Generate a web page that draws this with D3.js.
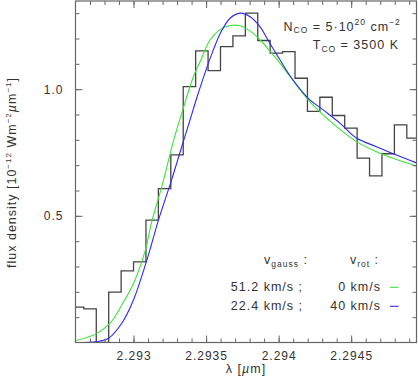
<!DOCTYPE html>
<html>
<head>
<meta charset="utf-8">
<script src="https://cdn.jsdelivr.net/npm/d3@7"></script>
<style>
body { margin: 0; background: #fff; }
text { font-family: "Liberation Sans", Arial, sans-serif; fill: #333; letter-spacing: 1px; }
</style>
</head>
<body>
<div id="chart"></div>
<script>
// observed spectrum, binned (bin centres in micron)
var binLambda = [2.2926148, 2.2927004, 2.2927860, 2.2928716, 2.2929572, 2.2930428, 2.2931284,
  2.2932140, 2.2932996, 2.2933852, 2.2934708, 2.2935564, 2.2936420, 2.2937276, 2.2938132,
  2.2938988, 2.2939844, 2.2940700, 2.2941556, 2.2942412, 2.2943268, 2.2944124, 2.2944980,
  2.2945836, 2.2946692, 2.2947548, 2.2948404, 2.2949260];
var binFlux = [0.140, 0.133, 0.0, 0.199, 0.283, 0.318, 0.483, 0.607, 0.741, 1.010, 1.151,
  1.073, 1.168, 1.210, 1.300, 1.192, 1.142, 1.148, 1.043, 0.912, 0.968, 0.896, 0.846,
  0.728, 0.658, 0.745, 0.859, 0.807];

// model: v_gauss = 51.2 km/s, v_rot = 0 km/s
var greenLambda = [2.292606, 2.292748, 2.292840, 2.292920, 2.293000, 2.293080, 2.293126,
  2.293195, 2.293275, 2.293332, 2.293413, 2.293459, 2.293528, 2.293596, 2.293665, 2.293734,
  2.293803, 2.293871, 2.293940, 2.294009, 2.294078, 2.294204, 2.294284, 2.294399, 2.294536,
  2.294674, 2.294812, 2.294949];
var greenFlux = [0.008, 0.036, 0.077, 0.149, 0.234, 0.362, 0.478, 0.616, 0.795, 0.905, 1.050,
  1.109, 1.195, 1.235, 1.251, 1.250, 1.229, 1.195, 1.150, 1.103, 1.050, 0.958, 0.910, 0.852,
  0.793, 0.753, 0.722, 0.696];

// model: v_gauss = 22.4 km/s, v_rot = 40 km/s
var blueLambda = [2.292606, 2.292748, 2.292828, 2.292920, 2.293000, 2.293085, 2.293120,
  2.293172, 2.293264, 2.293321, 2.293390, 2.293436, 2.293505, 2.293550, 2.293596, 2.293665,
  2.293734, 2.293803, 2.293871, 2.293940, 2.294009, 2.294078, 2.294204, 2.294307, 2.294422,
  2.294536, 2.294674, 2.294812, 2.294949];
var blueFlux = [0.000, 0.004, 0.017, 0.077, 0.169, 0.313, 0.380, 0.484, 0.645, 0.752, 0.880,
  0.966, 1.085, 1.155, 1.218, 1.280, 1.300, 1.286, 1.247, 1.180, 1.116, 1.053, 0.964, 0.918,
  0.866, 0.807, 0.773, 0.740, 0.709];

var xTicks = [2.293, 2.2935, 2.294, 2.2945];
var xTickLabels = ["2.293", "2.2935", "2.294", "2.2945"];
var yTicks = [0.5, 1.0];
var yTickLabels = ["0.5", "1.0"];
var legendGauss = ["51.2 km/s ;", "22.4 km/s ;"];
var legendRot = ["0 km/s", "40 km/s"];
var legendColors = ["#3ae43a", "#2a2af0"];

var svgWidth = 418;
var svgHeight = 377;
var margin = { top: 1, right: 1.5, bottom: 34.5, left: 75.5 };
var width = svgWidth - margin.left - margin.right;
var height = svgHeight - margin.top - margin.bottom;

var svg = d3.select("#chart")
  .append("svg")
  .attr("width", svgWidth)
  .attr("height", svgHeight);

var chartGroup = svg.append("g")
  .attr("transform", `translate(${margin.left}, ${margin.top})`);

var xScale = d3.scaleLinear().domain([2.2926, 2.29495]).range([0, width]);
var yScale = d3.scaleLinear().domain([0, 1.348]).range([height, 0]);

chartGroup.append("clipPath").attr("id", "plotclip")
  .append("rect").attr("width", width).attr("height", height);

// histogram of the data, extended to the frame on both sides
var histPts = binLambda.map((l, i) => [l, binFlux[i]]);
histPts.unshift([xScale.domain()[0], binFlux[0]]);
histPts.push([xScale.domain()[1], binFlux[binFlux.length - 1]]);

var stepLine = d3.line()
  .x(d => xScale(d[0]))
  .y(d => yScale(d[1]))
  .curve(d3.curveStep);

chartGroup.append("path")
  .datum(histPts)
  .attr("clip-path", "url(#plotclip)")
  .attr("d", stepLine)
  .attr("fill", "none")
  .attr("stroke", "#444")
  .attr("stroke-width", 1.3);

var modelLine = d3.line()
  .x(d => xScale(d[0]))
  .y(d => yScale(d[1]))
  .curve(d3.curveCatmullRom);

chartGroup.append("path")
  .datum(greenLambda.map((l, i) => [l, greenFlux[i]]))
  .attr("clip-path", "url(#plotclip)")
  .attr("d", modelLine)
  .attr("fill", "none")
  .attr("stroke", legendColors[0])
  .attr("stroke-width", 1.1);

chartGroup.append("path")
  .datum(blueLambda.map((l, i) => [l, blueFlux[i]]))
  .attr("clip-path", "url(#plotclip)")
  .attr("d", modelLine)
  .attr("fill", "none")
  .attr("stroke", legendColors[1])
  .attr("stroke-width", 1.1);

// axes: ticks point inwards on all four sides
var xMinor = d3.range(2.2927, 2.29495, 0.0001);
var yMinor = d3.range(0.1, 1.35, 0.1);

function drawAxis(axis, transform) {
  var g = chartGroup.append("g").attr("transform", transform).call(axis);
  g.select(".domain").remove();
  g.selectAll("line").attr("stroke", "#666");
  return g;
}

drawAxis(d3.axisBottom(xScale).tickValues(xMinor).tickSize(-4).tickFormat(""), `translate(0, ${height})`);
drawAxis(d3.axisTop(xScale).tickValues(xMinor).tickSize(-4).tickFormat(""), "translate(0, 0)");
drawAxis(d3.axisLeft(yScale).tickValues(yMinor).tickSize(-4).tickFormat(""), "translate(0, 0)");
drawAxis(d3.axisRight(yScale).tickValues(yMinor).tickSize(-4).tickFormat(""), `translate(${width}, 0)`);

drawAxis(d3.axisBottom(xScale).tickValues(xTicks).tickSize(-7).tickPadding(9)
  .tickFormat((d, i) => xTickLabels[i]), `translate(0, ${height})`);
drawAxis(d3.axisTop(xScale).tickValues(xTicks).tickSize(-7).tickFormat(""), "translate(0, 0)");
drawAxis(d3.axisLeft(yScale).tickValues(yTicks).tickSize(-7).tickPadding(12)
  .tickFormat((d, i) => yTickLabels[i]), "translate(0, 0)");
drawAxis(d3.axisRight(yScale).tickValues(yTicks).tickSize(-7).tickFormat(""), `translate(${width}, 0)`);

chartGroup.selectAll(".tick text")
  .attr("font-family", null)
  .attr("font-size", 12)
  .attr("fill", "#333");

chartGroup.append("rect")
  .attr("width", width)
  .attr("height", height)
  .attr("fill", "none")
  .attr("stroke", "#666")
  .attr("stroke-width", 1.2);

// axis titles
var xTitle = chartGroup.append("text")
  .attr("x", width / 2)
  .attr("y", height + 30.5)
  .attr("text-anchor", "middle")
  .attr("font-size", 12.5);
xTitle.append("tspan").text("λ [");
xTitle.append("tspan").attr("font-style", "italic").text("µ");
xTitle.append("tspan").text("m]");

var yTitle = svg.append("text")
  .attr("transform", "translate(15.5, 172.5) rotate(-90)")
  .attr("text-anchor", "middle")
  .attr("font-size", 12.5);
yTitle.append("tspan").text("flux density [10");
yTitle.append("tspan").attr("dy", -5).attr("font-size", 8).text("−12");
yTitle.append("tspan").attr("dy", 5).text(" Wm");
yTitle.append("tspan").attr("dy", -5).attr("font-size", 8).text("−2");
yTitle.append("tspan").attr("dy", 5).attr("font-style", "italic").text("µ");
yTitle.append("tspan").text("m");
yTitle.append("tspan").attr("dy", -5).attr("font-size", 8).text("−1");
yTitle.append("tspan").attr("dy", 5).text("]");

// model parameters
var nLine = svg.append("text").attr("x", 283.5).attr("y", 30.7).attr("font-size", 12.5);
nLine.append("tspan").text("N");
nLine.append("tspan").attr("dy", 2.6).attr("font-size", 8.5).text("CO");
nLine.append("tspan").attr("dy", -2.6).text(" = 5·10");
nLine.append("tspan").attr("dy", -5.5).attr("font-size", 8.5).text("20");
nLine.append("tspan").attr("dy", 5.5).text(" cm");
nLine.append("tspan").attr("dy", -5.5).attr("font-size", 8.5).text("−2");

var tLine = svg.append("text").attr("x", 399).attr("y", 49.3)
  .attr("text-anchor", "end").attr("font-size", 12.5);
tLine.append("tspan").text("T");
tLine.append("tspan").attr("dy", 2.6).attr("font-size", 8.5).text("CO");
tLine.append("tspan").attr("dy", -2.6).text(" = 3500 K");

// legend
var hGauss = svg.append("text").attr("x", 308).attr("y", 263.5)
  .attr("text-anchor", "end").attr("font-size", 12.5);
hGauss.append("tspan").text("v");
hGauss.append("tspan").attr("dy", 3).attr("font-size", 8.5).text("gauss");
hGauss.append("tspan").attr("dy", -3).text(" :");

var hRot = svg.append("text").attr("x", 379).attr("y", 263.5)
  .attr("text-anchor", "end").attr("font-size", 12.5);
hRot.append("tspan").text("v");
hRot.append("tspan").attr("dy", 3).attr("font-size", 8.5).text("rot");
hRot.append("tspan").attr("dy", -3).text(" :");

var rowY = [291, 310];
legendGauss.forEach((t, i) => {
  svg.append("text").attr("x", 303).attr("y", rowY[i])
    .attr("text-anchor", "end").attr("font-size", 12.5).text(t);
  svg.append("text").attr("x", 381).attr("y", rowY[i])
    .attr("text-anchor", "end").attr("font-size", 12.5).text(legendRot[i]);
  svg.append("line")
    .attr("x1", 390).attr("x2", 398.5)
    .attr("y1", rowY[i] - 3.7).attr("y2", rowY[i] - 3.7)
    .attr("stroke", legendColors[i])
    .attr("stroke-width", 1.1);
});
</script>
</body>
</html>
